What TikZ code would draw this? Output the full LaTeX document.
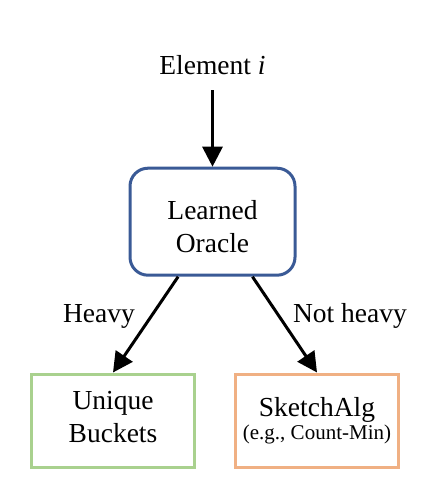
\documentclass[tikz,border=0pt]{standalone}
\usepackage{fontspec}
\setmainfont{Liberation Serif}
\usetikzlibrary{arrows.meta}
\definecolor{oracleblue}{HTML}{3A5A96}
\definecolor{heavygreen}{HTML}{A9D18E}
\definecolor{sketchorange}{HTML}{F0B083}
\tikzset{
  bigfont/.style={font=\fontsize{27.5}{33}\selectfont},
  oraclebox/.style={draw=oracleblue, line width=3pt, rounded corners=18pt, minimum width=165pt, minimum height=107pt, align=center, bigfont, inner sep=0pt},
  leafbox/.style={draw, line width=3pt, minimum width=163pt, minimum height=93pt, align=center, bigfont, inner sep=0pt},
  flow/.style={line width=3pt, -{Triangle[length=20pt,width=20pt]}},
  edgelabel/.style={bigfont, anchor=base, inner sep=0pt}
}
\begin{document}
\begin{tikzpicture}[x=1pt,y=-1pt]
\useasboundingbox (0,0) rectangle (440,494);
\node[bigfont, anchor=base, inner sep=0pt, inner ysep=15pt] (elem) at (212.5,75) {Element \textit{i}};
\node[oraclebox, text height=60.6pt, text depth=0pt] (oracle) at (212.5,221.7) {Learned\\Oracle};
\node[leafbox, draw=heavygreen, text height=43pt, text depth=0pt] (unique) at (113,420.5) {Unique\\Buckets};
\node[leafbox, draw=sketchorange, text height=37pt, text depth=0pt] (sketch) at (317,420.5) {SketchAlg\\[-10pt]{\fontsize{21}{25}\selectfont (e.g., Count-Min)}};
\draw[flow] (elem.south) -- (oracle.north);
\draw[flow] (oracle.238) -- (unique.north);
\draw[flow] (oracle.306) -- (sketch.north);
\node[edgelabel] (heavy) at (99,322) {Heavy};
\node[edgelabel] (notheavy) at (350,322) {Not heavy};
\end{tikzpicture}
\end{document}
